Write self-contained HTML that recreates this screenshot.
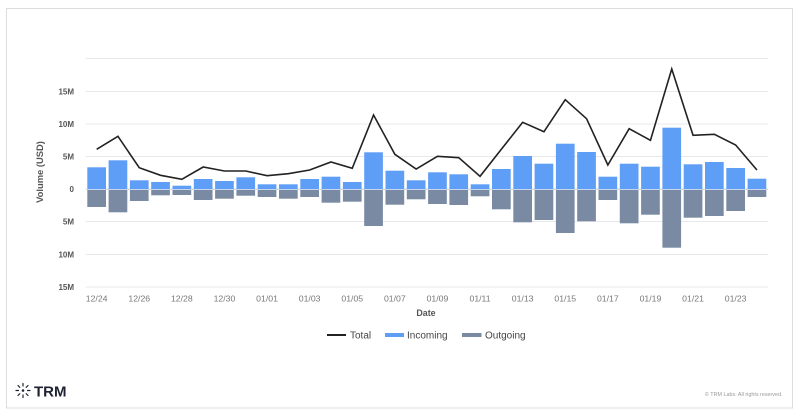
<!DOCTYPE html>
<html><head><meta charset="utf-8"><style>
html,body{margin:0;padding:0;background:#fff;}
svg{display:block;font-family:"Liberation Sans",sans-serif;}
</style></head><body>
<svg width="800" height="418" viewBox="0 0 800 418" xmlns="http://www.w3.org/2000/svg">
<rect x="0" y="0" width="800" height="418" fill="#fff"/>
<rect x="6.5" y="8.5" width="786" height="399.5" fill="#fff" stroke="#dcdcdc" stroke-width="1"/>
<g stroke="#e6e8eb" stroke-width="1">
<line x1="86" x2="768" y1="58.5" y2="58.5"/>
<line x1="86" x2="768" y1="91.5" y2="91.5"/>
<line x1="86" x2="768" y1="124" y2="124"/>
<line x1="86" x2="768" y1="156.5" y2="156.5"/>
<line x1="86" x2="768" y1="189" y2="189"/>
<line x1="86" x2="768" y1="221.5" y2="221.5"/>
<line x1="86" x2="768" y1="254.5" y2="254.5"/>
<line x1="86" x2="768" y1="287" y2="287"/>
</g>
<g font-size="8" font-weight="bold" fill="#555" text-anchor="end">
<text x="74" y="94.5">15M</text>
<text x="74" y="127">10M</text>
<text x="74" y="159.5">5M</text>
<text x="74" y="192">0</text>
<text x="74" y="224.5">5M</text>
<text x="74" y="257.5">10M</text>
<text x="74" y="290">15M</text>
</g>
<text x="0" y="0" font-size="9.4" font-weight="bold" fill="#555" text-anchor="middle" transform="translate(43,172) rotate(-90)">Volume (USD)</text>
<g fill="#5f9ef6">
<rect x="87.3" y="167.3" width="18.7" height="21.7"/>
<rect x="108.6" y="160.3" width="18.7" height="28.7"/>
<rect x="129.9" y="180.3" width="18.7" height="8.7"/>
<rect x="151.2" y="182" width="18.7" height="7"/>
<rect x="172.5" y="185.7" width="18.7" height="3.3"/>
<rect x="193.8" y="179" width="18.7" height="10"/>
<rect x="215.1" y="181" width="18.7" height="8"/>
<rect x="236.4" y="177.3" width="18.7" height="11.7"/>
<rect x="257.7" y="184.3" width="18.7" height="4.7"/>
<rect x="279.0" y="184.3" width="18.7" height="4.7"/>
<rect x="300.3" y="179" width="18.7" height="10"/>
<rect x="321.6" y="176.7" width="18.7" height="12.3"/>
<rect x="342.9" y="182" width="18.7" height="7"/>
<rect x="364.2" y="152.3" width="18.7" height="36.7"/>
<rect x="385.5" y="170.7" width="18.7" height="18.3"/>
<rect x="406.8" y="180.3" width="18.7" height="8.7"/>
<rect x="428.1" y="172.3" width="18.7" height="16.7"/>
<rect x="449.4" y="174.3" width="18.7" height="14.7"/>
<rect x="470.7" y="184.3" width="18.7" height="4.7"/>
<rect x="492.0" y="169" width="18.7" height="20"/>
<rect x="513.3" y="156" width="18.7" height="33"/>
<rect x="534.6" y="163.7" width="18.7" height="25.3"/>
<rect x="555.9" y="143.7" width="18.7" height="45.3"/>
<rect x="577.2" y="152" width="18.7" height="37"/>
<rect x="598.5" y="176.7" width="18.7" height="12.3"/>
<rect x="619.8" y="163.7" width="18.7" height="25.3"/>
<rect x="641.1" y="166.7" width="18.7" height="22.3"/>
<rect x="662.4" y="127.7" width="18.7" height="61.3"/>
<rect x="683.7" y="164.3" width="18.7" height="24.7"/>
<rect x="705.0" y="162" width="18.7" height="27"/>
<rect x="726.3" y="168" width="18.7" height="21"/>
<rect x="747.6" y="178.7" width="18.7" height="10.3"/>
</g>
<g fill="#7a8aa2">
<rect x="87.3" y="190" width="18.7" height="17"/>
<rect x="108.6" y="190" width="18.7" height="22.3"/>
<rect x="129.9" y="190" width="18.7" height="11"/>
<rect x="151.2" y="190" width="18.7" height="5.3"/>
<rect x="172.5" y="190" width="18.7" height="5"/>
<rect x="193.8" y="190" width="18.7" height="10"/>
<rect x="215.1" y="190" width="18.7" height="8.7"/>
<rect x="236.4" y="190" width="18.7" height="5.7"/>
<rect x="257.7" y="190" width="18.7" height="7"/>
<rect x="279.0" y="190" width="18.7" height="8.7"/>
<rect x="300.3" y="190" width="18.7" height="7"/>
<rect x="321.6" y="190" width="18.7" height="12.7"/>
<rect x="342.9" y="190" width="18.7" height="11.7"/>
<rect x="364.2" y="190" width="18.7" height="36"/>
<rect x="385.5" y="190" width="18.7" height="14.7"/>
<rect x="406.8" y="190" width="18.7" height="9.3"/>
<rect x="428.1" y="190" width="18.7" height="14"/>
<rect x="449.4" y="190" width="18.7" height="15"/>
<rect x="470.7" y="190" width="18.7" height="6.3"/>
<rect x="492.0" y="190" width="18.7" height="19.3"/>
<rect x="513.3" y="190" width="18.7" height="32.3"/>
<rect x="534.6" y="190" width="18.7" height="30"/>
<rect x="555.9" y="190" width="18.7" height="43"/>
<rect x="577.2" y="190" width="18.7" height="31.3"/>
<rect x="598.5" y="190" width="18.7" height="10"/>
<rect x="619.8" y="190" width="18.7" height="33.3"/>
<rect x="641.1" y="190" width="18.7" height="24.7"/>
<rect x="662.4" y="190" width="18.7" height="57.7"/>
<rect x="683.7" y="190" width="18.7" height="27.7"/>
<rect x="705.0" y="190" width="18.7" height="26"/>
<rect x="726.3" y="190" width="18.7" height="21"/>
<rect x="747.6" y="190" width="18.7" height="7"/>
</g>
<line x1="86" x2="768" y1="189.5" y2="189.5" stroke="#c8d6ec" stroke-width="1"/>
<polyline fill="none" stroke="#222" stroke-width="1.6" points="96.65,149.3 117.95,136.3 139.25,167.7 160.55,175.3 181.85,179.3 203.15,167 224.45,171 245.75,171 267.05,175.7 288.35,173.7 309.65,170 330.95,162 352.25,168.3 373.55,115 394.85,154.3 416.15,169 437.45,156.3 458.75,157.7 480.05,176.3 501.35,149.3 522.65,122.3 543.95,131.7 565.25,99.7 586.55,118.7 607.85,165 629.15,128.7 650.45,140.3 671.75,69 693.05,135.3 714.35,134.3 735.65,145 756.95,170"/>
<g font-size="8.7" fill="#777" text-anchor="middle">
<text x="96.65" y="301.5">12/24</text>
<text x="139.25" y="301.5">12/26</text>
<text x="181.85" y="301.5">12/28</text>
<text x="224.45" y="301.5">12/30</text>
<text x="267.05" y="301.5">01/01</text>
<text x="309.65" y="301.5">01/03</text>
<text x="352.25" y="301.5">01/05</text>
<text x="394.85" y="301.5">01/07</text>
<text x="437.45" y="301.5">01/09</text>
<text x="480.05" y="301.5">01/11</text>
<text x="522.65" y="301.5">01/13</text>
<text x="565.25" y="301.5">01/15</text>
<text x="607.85" y="301.5">01/17</text>
<text x="650.45" y="301.5">01/19</text>
<text x="693.05" y="301.5">01/21</text>
<text x="735.65" y="301.5">01/23</text>
</g>
<text x="426" y="316" font-size="8.9" font-weight="bold" fill="#555" text-anchor="middle">Date</text>
<line x1="327" x2="346" y1="335" y2="335" stroke="#222" stroke-width="2"/>
<text x="350" y="338.5" font-size="10" fill="#444">Total</text>
<rect x="385" y="333" width="19" height="4" fill="#5f9ef6"/>
<text x="407" y="338.5" font-size="10" fill="#444">Incoming</text>
<rect x="462" y="333" width="19.5" height="4" fill="#7a8aa2"/>
<text x="485" y="338.5" font-size="10" fill="#444">Outgoing</text>
<g transform="translate(23,390.5)" stroke="#1e2233" stroke-width="1.2" stroke-linecap="round">
<line x1="0" y1="-7" x2="0" y2="-4.5"/><line x1="0" y1="7" x2="0" y2="4.5"/>
<line x1="-7" y1="0" x2="-4.5" y2="0"/><line x1="7" y1="0" x2="4.5" y2="0"/>
<line x1="-5" y1="-5" x2="-3.2" y2="-3.2"/><line x1="5" y1="5" x2="3.2" y2="3.2"/>
<line x1="-5" y1="5" x2="-3.2" y2="3.2"/><line x1="5" y1="-5" x2="3.2" y2="-3.2"/>
<circle cx="0" cy="0" r="1.3" fill="#1e2233" stroke="none"/>
</g>
<text x="34" y="396.5" font-size="15" font-weight="bold" fill="#1e2233">TRM</text>
<text x="782.5" y="396" font-size="5.4" fill="#9a9a9a" text-anchor="end">© TRM Labs. All rights reserved.</text>
</svg>
</body></html>
